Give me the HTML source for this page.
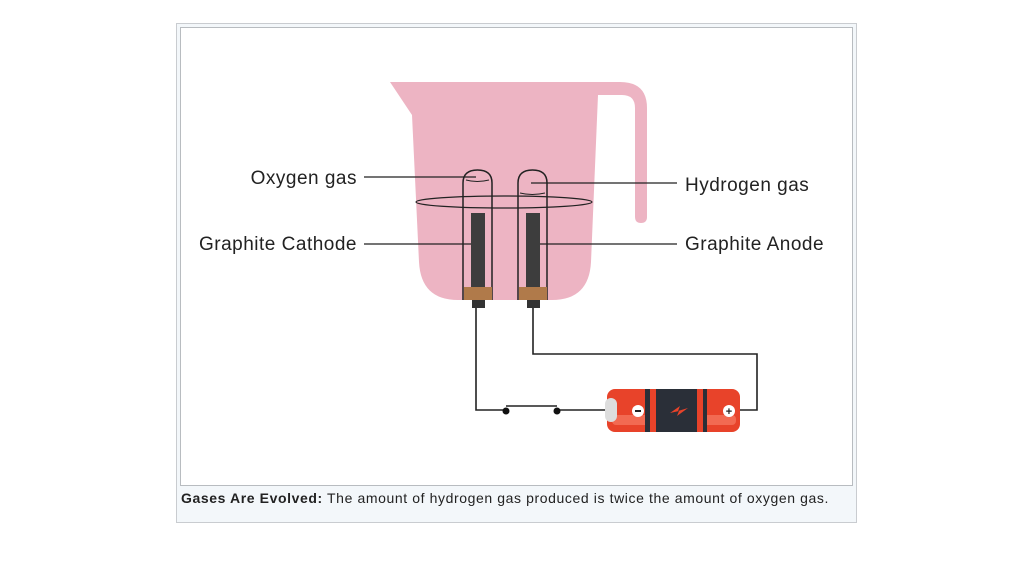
<!DOCTYPE html>
<html><head><style>
body{margin:0;width:1024px;height:576px;background:#fff;overflow:hidden;position:relative;font-family:"Liberation Sans",sans-serif}
.outer{position:absolute;left:176px;top:23px;width:679px;height:498px;border:1px solid #c9ccd0;background:#f3f7fa}
.inner{position:absolute;left:180px;top:27px;width:671px;height:457px;border:1px solid #b8bcc0;background:#fff}
.cap{position:absolute;left:181px;top:490px;font-size:14px;letter-spacing:0.6px;color:#222;white-space:nowrap}
svg{position:absolute;left:0;top:0}
</style></head><body>
<div class="outer"></div><div class="inner"></div>
<div class="cap"><b>Gases Are Evolved:</b> The amount of hydrogen gas produced is twice the amount of oxygen gas.</div>
<svg width="1024" height="576" font-family="Liberation Sans, sans-serif" font-size="19" letter-spacing="0.5" fill="#222">
<path d="M390 82 H620 Q647 82 647 108 V217 Q647 223 641 223 Q635 223 635 217 V108 Q635 95 622 95 H598 L591 262 Q589 300 552 300 H458 Q421 300 419 262 L412 115 Z" fill="#edb4c3"/>
<g stroke="#222" stroke-width="1.5" fill="none">
<path d="M463 300 V183 Q463 170 477.5 170 Q492 170 492 183 V300"/>
<path d="M518 300 V183 Q518 170 532.5 170 Q547 170 547 183 V300"/>
<ellipse cx="504" cy="202" rx="88" ry="6" stroke-width="1.2"/>
<path d="M466 180 Q477 183 489 180" stroke-width="1"/>
<path d="M520 193 Q532 196 545 193" stroke-width="1"/>
<path d="M476 307 V410 H506 M506 406 H557 M557 410 H607" stroke-width="1.6"/>
<path d="M533 307 V354 H757 V410 H738" stroke-width="1.6"/>
<line x1="364" y1="177" x2="476" y2="177" stroke-width="1.2"/>
<line x1="531" y1="183" x2="677" y2="183" stroke-width="1.2"/>
<line x1="364" y1="244" x2="477" y2="244" stroke-width="1.2"/>
<line x1="536" y1="244" x2="677" y2="244" stroke-width="1.2"/>
</g>
<rect x="471" y="213" width="14" height="74" fill="#3d3d3d"/>
<rect x="526" y="213" width="14" height="74" fill="#3d3d3d"/>
<rect x="464" y="287" width="28" height="13" fill="#b07a4a"/>
<rect x="519" y="287" width="28" height="13" fill="#b07a4a"/>
<rect x="472" y="300" width="13" height="8" fill="#333"/>
<rect x="527" y="300" width="13" height="8" fill="#333"/>
<circle cx="506" cy="411" r="3.5" fill="#111"/><circle cx="557" cy="411" r="3.5" fill="#111"/>
<rect x="607" y="389" width="133" height="43" rx="8" fill="#e8432a"/>
<rect x="612" y="415" width="124" height="10" rx="4" fill="#f26a52"/>
<rect x="645" y="389" width="62" height="43" fill="#2a2f38"/>
<rect x="650" y="389" width="6" height="43" fill="#e8432a"/><rect x="697" y="389" width="6" height="43" fill="#e8432a"/>
<rect x="605" y="398" width="12" height="24" rx="6" fill="#ddd"/>
<path d="M670 413 L680 406 L678 411 L688 408 L677 416 L679 411 Z" fill="#e8432a"/>
<circle cx="638" cy="411" r="6" fill="#fff"/><rect x="635" y="410" width="6" height="2" fill="#222"/>
<circle cx="729" cy="411" r="6" fill="#fff"/><text x="729" y="415" font-size="11" font-weight="bold" text-anchor="middle" letter-spacing="0">+</text>
<text x="357" y="184" text-anchor="end">Oxygen gas</text>
<text x="685" y="191">Hydrogen gas</text>
<text x="357" y="250" text-anchor="end">Graphite Cathode</text>
<text x="685" y="250">Graphite Anode</text>
</svg>
</body></html>
